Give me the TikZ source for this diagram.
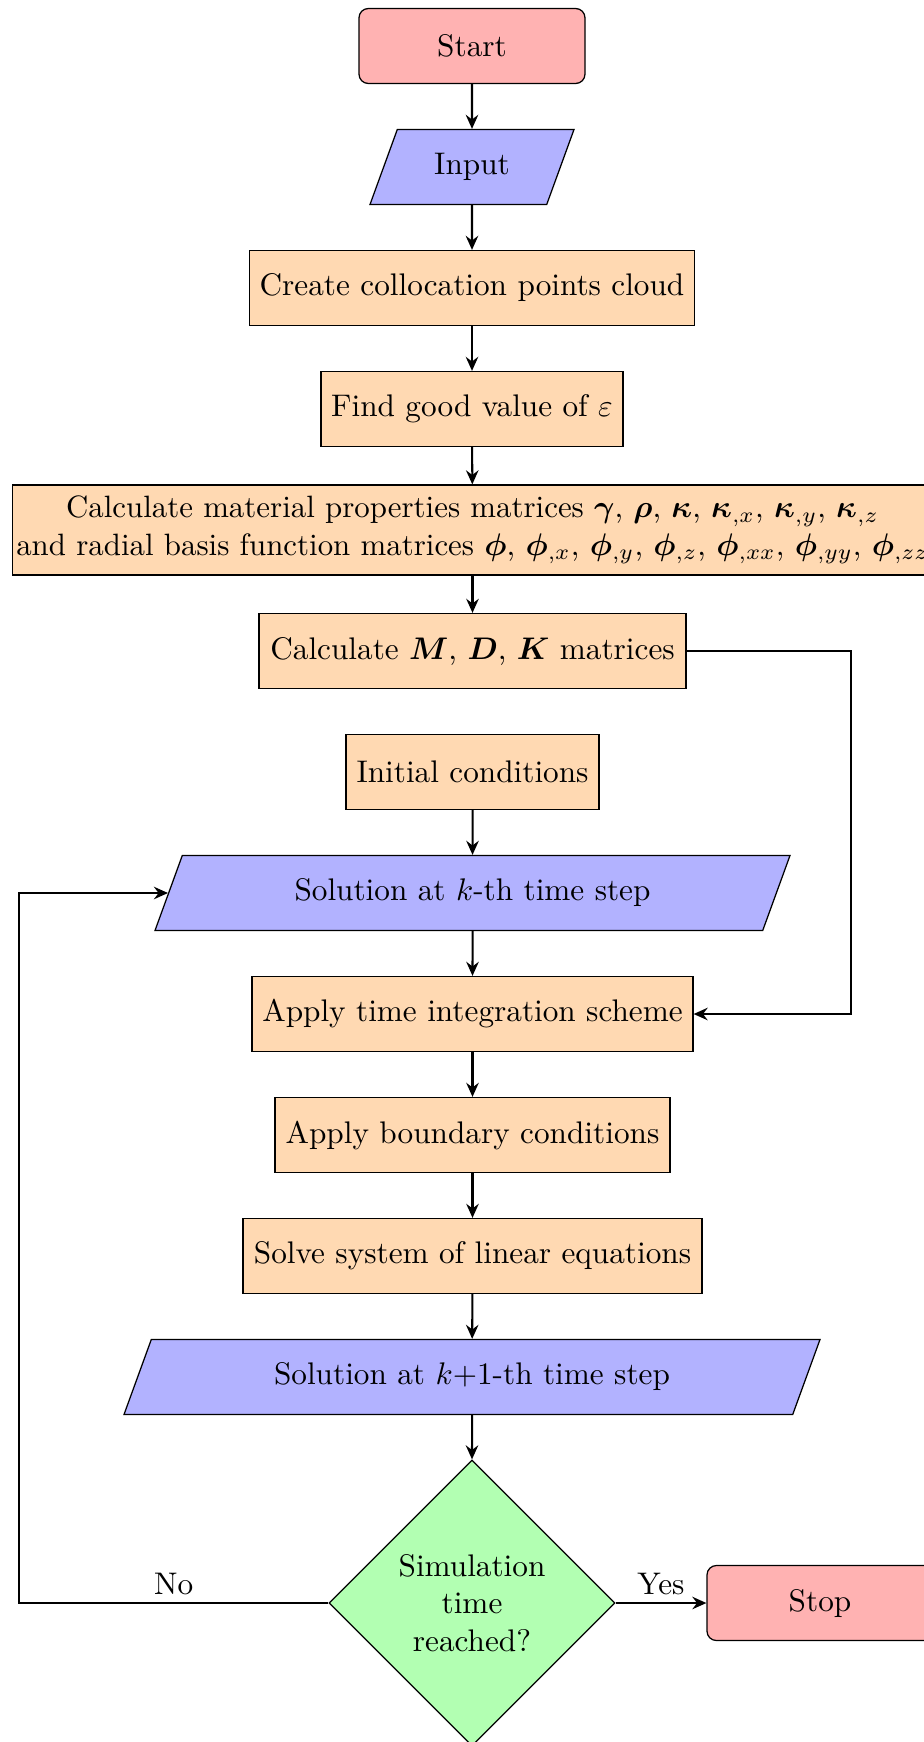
\documentclass[tikz,border=0pt]{standalone}
\usepackage{amsmath}
\usepackage{bm}
\usetikzlibrary{shapes.geometric,arrows.meta}
\def\pxu{0.32pt}
\tikzset{
  x=0.32pt, y=-0.32pt,
  base/.style={draw, align=center, inner sep=0pt, font=\normalsize},
  procbox/.style={base, rectangle, fill=orange!30, minimum height=75*\pxu},
  termbox/.style={base, rectangle, rounded corners=3pt, fill=red!30, minimum width=226*\pxu, minimum height=75*\pxu},
  iobox/.style={base, trapezium, trapezium left angle=70, trapezium right angle=110, trapezium stretches body, fill=blue!30, text height=7pt, text depth=2pt, inner ysep=7.5pt},
  decbox/.style={base, diamond, fill=green!30, minimum width=286*\pxu, minimum height=286*\pxu},
  conn/.style={line width=0.65pt, -{Stealth[length=4.5pt, width=4pt, inset=1.5pt]}},
  lbl/.style={above=-1pt},
}
\begin{document}
\begin{tikzpicture}
\useasboundingbox (0,0) rectangle (924,1742);
\node[termbox] (start) at (472,46) {Start};
\node[iobox, minimum width=204*\pxu] (input) at (472,167) {Input};
\node[procbox, minimum width=445*\pxu] (create) at (472,288) {Create collocation points cloud};
\node[procbox, minimum width=302*\pxu] (find) at (472,409) {Find good value of $\varepsilon$};
\node[procbox, minimum width=920*\pxu, minimum height=90*\pxu, font=\fontsize{9.88}{12}\selectfont] (mat) at (472.5,530) {Calculate material properties matrices $\bm{\gamma}$, $\bm{\rho}$, $\bm{\kappa}$, $\bm{\kappa}_{,x}$, $\bm{\kappa}_{,y}$, $\bm{\kappa}_{,z}$\\and radial basis function matrices $\bm{\phi}$, $\bm{\phi}_{,x}$, $\bm{\phi}_{,y}$, $\bm{\phi}_{,z}$, $\bm{\phi}_{,xx}$, $\bm{\phi}_{,yy}$, $\bm{\phi}_{,zz}$};
\node[procbox, minimum width=427*\pxu] (mdk) at (472.5,651) {Calculate $\bm{M}$, $\bm{D}$, $\bm{K}$ matrices};
\node[procbox, minimum width=253*\pxu] (init) at (472.5,772) {Initial conditions};
\node[iobox, minimum width=635*\pxu] (solk) at (472.5,893) {Solution at $k$-th time step};
\node[procbox, minimum width=441*\pxu] (apply) at (472.5,1014) {Apply time integration scheme};
\node[procbox, minimum width=395*\pxu] (bc) at (472.5,1135) {Apply boundary conditions};
\node[procbox, minimum width=459*\pxu] (solve) at (472.5,1256) {Solve system of linear equations};
\node[iobox, minimum width=696*\pxu] (solk1) at (472,1377) {Solution at $k{+}1$-th time step};
\node[decbox] (dec) at (472,1603) {Simulation\\time\\reached?};
\node[termbox] (stop) at (820,1603) {Stop};
\coordinate (rx) at (851,651);
\coordinate (lx) at (19,1603);
\draw[conn] (start) -- (input);
\draw[conn] (input) -- (create);
\draw[conn] (create) -- (find);
\draw[conn] (find) -- (mat);
\draw[conn] (mat) -- (mdk);
\draw[conn] (init) -- (solk);
\draw[conn] (solk) -- (apply);
\draw[conn] (apply) -- (bc);
\draw[conn] (bc) -- (solve);
\draw[conn] (solve) -- (solk1);
\draw[conn] (solk1) -- (dec);
\draw[conn] (mdk.east) -- (rx) |- (apply.east);
\draw[conn] (dec.west) -- node[lbl] {No} (lx) |- (solk.west);
\draw[conn] (dec.east) -- node[lbl] {Yes} (stop.west);
\end{tikzpicture}
\end{document}
